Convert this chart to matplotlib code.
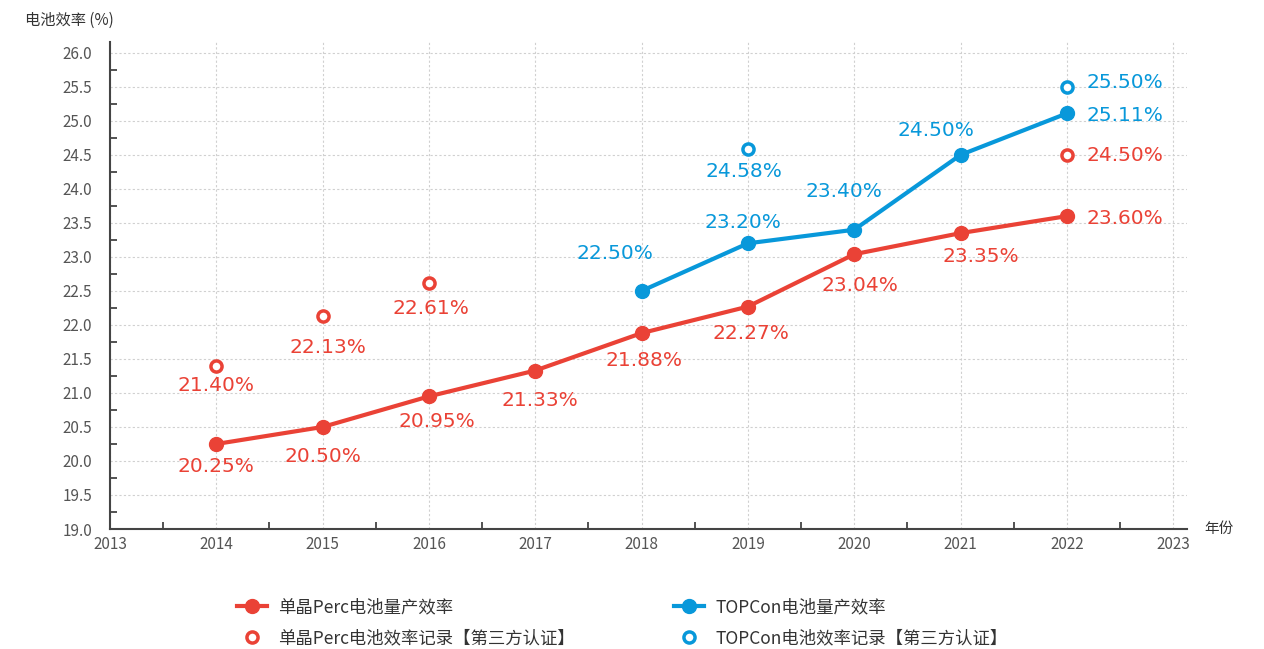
import numpy as np
import matplotlib.pyplot as plt
from matplotlib.lines import Line2D
from matplotlib.ticker import MultipleLocator

plt.rcParams['font.family'] = ['Noto Sans CJK SC', 'DejaVu Sans']

# data
perc_years = [2014, 2015, 2016, 2017, 2018, 2019, 2020, 2021, 2022]
perc_eff = [20.25, 20.50, 20.95, 21.33, 21.88, 22.27, 23.04, 23.35, 23.60]
perc_rec_years = [2014, 2015, 2016, 2022]
perc_rec_eff = [21.40, 22.13, 22.61, 24.50]
topcon_years = [2018, 2019, 2020, 2021, 2022]
topcon_eff = [22.50, 23.20, 23.40, 24.50, 25.11]
topcon_rec_years = [2019, 2022]
topcon_rec_eff = [24.58, 25.50]

# label offsets in pixels (dx, dy, ha)
perc_off = [(0, -23, 'center'), (0, -30, 'center'), (8, -25, 'center'), (5, -30, 'center'),
            (2, -27, 'center'), (3, -27, 'center'), (6, -31, 'center'), (20, -23, 'center'),
            (20, -2, 'left')]
perc_rec_off = [(0, -20, 'center'), (5, -31, 'center'), (2, -25, 'center'), (20, -1, 'left')]
topcon_off = [(-27, 37, 'center'), (-5, 21, 'center'), (-10, 38, 'center'), (-25, 24, 'center'),
              (20, -2, 'left')]
topcon_rec_off = [(-4, -22, 'center'), (20, 4, 'left')]

red = '#EA4236'
blue = '#0898DA'

fig = plt.figure(figsize=(12.64, 6.49), dpi=100)
ax = fig.add_axes([110 / 1264, 1 - 529 / 649, (1187 - 110) / 1264, (529 - 42) / 649])

ax.plot(perc_years, perc_eff, color=red, lw=3, marker='o', ms=10, zorder=3)
ax.plot(topcon_years, topcon_eff, color=blue, lw=3, marker='o', ms=10, zorder=3)
ax.plot(perc_rec_years, perc_rec_eff, ls='none', marker='o', ms=8, mfc='white', mec=red, mew=2.5, zorder=3)
ax.plot(topcon_rec_years, topcon_rec_eff, ls='none', marker='o', ms=8, mfc='white', mec=blue, mew=2.5, zorder=3)

def put_labels(xs, ys, offs, color):
    for x, y, (dx, dy, ha) in zip(xs, ys, offs):
        ax.annotate(f'{y:.2f}%', (x, y), xytext=(dx, dy), textcoords='offset pixels',
                    ha=ha, va='center', color=color, fontsize=14.5, family='DejaVu Sans')

put_labels(perc_years, perc_eff, perc_off, red)
put_labels(perc_rec_years, perc_rec_eff, perc_rec_off, red)
put_labels(topcon_years, topcon_eff, topcon_off, blue)
put_labels(topcon_rec_years, topcon_rec_eff, topcon_rec_off, blue)

ax.set_xlim(2013, 2023.13)
ax.set_ylim(19.0, 26.16)
ax.xaxis.set_minor_locator(MultipleLocator(0.5))
ax.yaxis.set_minor_locator(MultipleLocator(0.25))
ax.set_xticks(np.arange(2013, 2024))
ax.set_yticks(np.arange(19.0, 26.01, 0.5))
ax.set_yticklabels([f'{v:.1f}' for v in np.arange(19.0, 26.01, 0.5)])
ax.tick_params(which='major', length=0, labelsize=11, labelcolor='#555555')
ax.tick_params(axis='y', which='major', pad=13)
ax.tick_params(axis='x', which='major', pad=5)
ax.tick_params(which='minor', direction='in', length=5, width=1.3, color='#444444')
ax.grid(True, which='major', color='#d0d0d0', ls=(0, (2, 2)), lw=0.8)
for s in ['top', 'right']:
    ax.spines[s].set_visible(False)
for s in ['left', 'bottom']:
    ax.spines[s].set_color('#444444')
    ax.spines[s].set_linewidth(1.5)

fig.text(25 / 1264, 1 - 20 / 649, '电池效率 (%)', fontsize=11, color='#333333', va='center')
fig.text(1204 / 1264, 1 - 529 / 649, '年份', fontsize=10.5, color='#333333', va='center')

handles = [
    Line2D([], [], color=red, lw=3, marker='o', ms=10),
    Line2D([], [], ls='none', marker='o', ms=8, mfc='white', mec=red, mew=2.5),
    Line2D([], [], color=blue, lw=3, marker='o', ms=10),
    Line2D([], [], ls='none', marker='o', ms=8, mfc='white', mec=blue, mew=2.5),
]
labels = ['单晶Perc电池量产效率', '单晶Perc电池效率记录【第三方认证】',
          'TOPCon电池量产效率', 'TOPCon电池效率记录【第三方认证】']
fig.legend(handles, labels, ncol=2, loc='upper left', bbox_to_anchor=(237 / 1264, 1 - 598 / 649),
           frameon=False, fontsize=12.5, columnspacing=5.7, handlelength=1.75, handletextpad=0.63,
           labelspacing=0.78, borderpad=0, borderaxespad=0, labelcolor='#333333')

fig.savefig('out.png', dpi=100)
